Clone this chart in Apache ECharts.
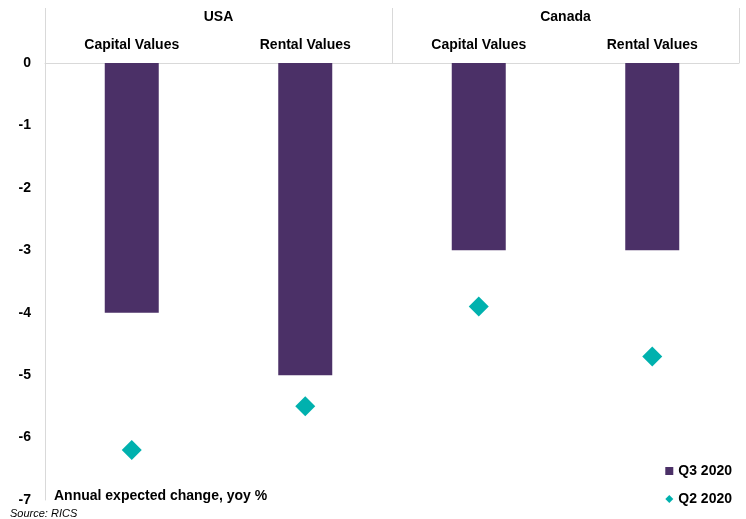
<!DOCTYPE html>
<html>
<head>
<meta charset="utf-8">
<script src="https://cdn.jsdelivr.net/npm/echarts@6/dist/echarts.min.js"></script>
<style>
  html, body { margin: 0; padding: 0; background: #fff; }
  #chart { width: 746px; height: 519px; }
</style>
</head>
<body>
<div id="chart"></div>
<script>
// categories (inner and outer header rows)
var categories = ["Capital Values", "Rental Values", "Capital Values", "Rental Values"];
var regions = ["USA", "Canada"];
// annual expected change, yoy %
var q3Values = [-4, -5, -3, -3];
var q2Values = [-6.2, -5.5, -3.9, -4.7];
var yTicks = { min: -7, max: 0, interval: 1 };

var font = "'Liberation Sans Narrow', 'Liberation Sans', Arial, sans-serif";
var gray = "#d9d9d9";

var chartDom = document.getElementById("chart");
var myChart = echarts.init(chartDom);
var option;

option = {
  animation: false,
  textStyle: { fontFamily: font },
  title: [
    {
      text: "Annual expected change, yoy %",
      left: 49,
      top: 484,
      textStyle: { fontFamily: font, fontSize: 14, fontWeight: "bold", color: "#000" },
    },
    {
      text: "Source: RICS",
      left: 5,
      top: 503,
      textStyle: { fontFamily: font, fontSize: 11, fontStyle: "italic", fontWeight: "normal", color: "#000" },
    },
  ],
  legend: {
    orient: "vertical",
    right: 9,
    bottom: 8,
    itemWidth: 8,
    itemHeight: 8,
    itemGap: 14,
    textStyle: { fontFamily: font, fontSize: 14, fontWeight: "bold", color: "#000" },
    data: [
      { name: "Q3 2020", icon: "rect" },
      { name: "Q2 2020", icon: "diamond" },
    ],
  },
  grid: {
    left: 45,
    right: 7,
    top: 63,
    bottom: 19,
  },
  xAxis: [
    {
      type: "category",
      position: "top",
      data: categories,
      axisLine: { lineStyle: { color: gray } },
      axisTick: { show: false },
      axisLabel: { margin: 11, fontFamily: font, fontSize: 14, fontWeight: "bold", color: "#000" },
    },
    {
      type: "category",
      position: "top",
      data: regions,
      axisLine: { show: false },
      axisTick: {
        show: true,
        length: 55,
        lineStyle: { color: gray },
      },
      axisLabel: { margin: 39, fontFamily: font, fontSize: 14, fontWeight: "bold", color: "#000" },
    },
  ],
  yAxis: {
    type: "value",
    min: yTicks.min,
    max: yTicks.max,
    interval: yTicks.interval,
    axisLine: { show: true, lineStyle: { color: gray } },
    axisTick: { show: false },
    splitLine: { show: false },
    axisLabel: { margin: 14, fontFamily: font, fontSize: 14, fontWeight: "bold", color: "#000" },
  },
  series: [
    {
      name: "Q3 2020",
      type: "bar",
      barWidth: 54,
      itemStyle: { color: "#4b3067" },
      data: q3Values,
    },
    {
      name: "Q2 2020",
      type: "scatter",
      symbol: "diamond",
      symbolSize: 20,
      itemStyle: { color: "#00b1ae", opacity: 1 },
      data: q2Values,
    },
  ],
};

option && myChart.setOption(option);
</script>
</body>
</html>
